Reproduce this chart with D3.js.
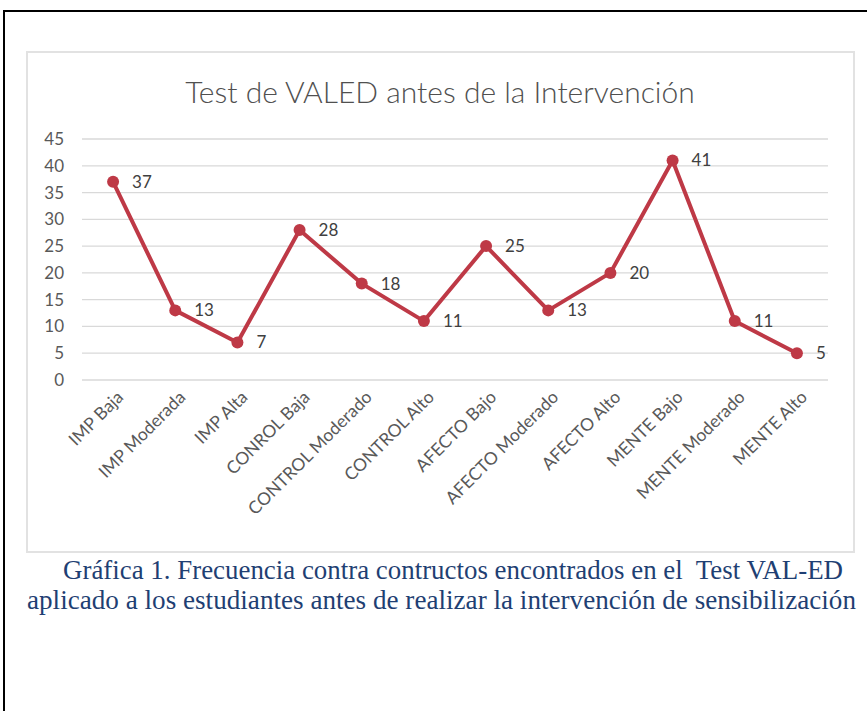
<!DOCTYPE html>
<meta charset="utf-8">
<style>
  body { margin: 0; background: #fff; }
</style>
<script src="https://d3js.org/d3.v7.min.js"></script>
<div id="chart"></div>
<script>

// data
var categories = ["IMP Baja", "IMP Moderada", "IMP Alta", "CONROL Baja", "CONTROL Moderado",
  "CONTROL Alto", "AFECTO Bajo", "AFECTO Moderado", "AFECTO Alto", "MENTE Bajo",
  "MENTE Moderado", "MENTE Alto"];
var values = [37, 13, 7, 28, 18, 11, 25, 13, 20, 41, 11, 5];
var yTicks = [0, 5, 10, 15, 20, 25, 30, 35, 40, 45];
var title = "Test de VALED antes de la Intervención";
var caption = [
  "Gráfica 1. Frecuencia contra contructos encontrados en el  Test VAL-ED",
  "aplicado a los estudiantes antes de realizar la intervención de sensibilización"
];

var W = 867, H = 711;
var lineColor = "#be3946";
var font = "Lato, 'Open Sans', sans-serif";

var svg = d3.select("#chart").append("svg")
  .attr("width", W)
  .attr("height", H);

// outer page frame (top and left edges)
svg.append("path")
  .attr("d", "M4,711 V11 H867")
  .attr("fill", "none")
  .attr("stroke", "#000")
  .attr("stroke-width", 2);

// chart box
svg.append("rect")
  .attr("x", 27).attr("y", 52)
  .attr("width", 827).attr("height", 500)
  .attr("fill", "#fff")
  .attr("stroke", "#e2e2e2")
  .attr("stroke-width", 2);

svg.append("text")
  .attr("x", 440)
  .attr("y", 103)
  .attr("text-anchor", "middle")
  .style("font-family", font)
  .style("font-weight", 300)
  .style("font-size", "30px")
  .style("fill", "#505050")
  .text(title);

// scales
var x = d3.scaleBand()
  .domain(categories)
  .range([82, 828]);

var y = d3.scaleLinear()
  .domain([0, 45])
  .range([380, 139]);

var cx = function(d) { return x(d) + x.bandwidth() / 2; };

// gridlines
svg.append("g")
  .selectAll("line")
  .data(yTicks)
  .enter()
  .append("line")
  .attr("x1", 82).attr("x2", 828)
  .attr("y1", function(d) { return y(d); })
  .attr("y2", function(d) { return y(d); })
  .attr("stroke", "#d9d9d9")
  .attr("stroke-width", 1.3);

// y axis labels
var yAxis = d3.axisLeft(y).tickValues(yTicks).tickSize(0).tickPadding(18);
svg.append("g")
  .attr("transform", "translate(82,0)")
  .call(yAxis)
  .call(function(g) { g.select(".domain").remove(); })
  .selectAll("text")
  .style("font-family", font)
  .style("font-size", "17px")
  .style("fill", "#595959");

// x axis labels, rotated
svg.append("g")
  .selectAll("text")
  .data(categories)
  .enter()
  .append("text")
  .attr("transform", function(d) { return "translate(" + (cx(d) + 7) + ",394) rotate(-45)"; })
  .attr("text-anchor", "end")
  .attr("dy", "0.35em")
  .style("font-family", font)
  .style("font-size", "17.5px")
  .style("fill", "#595959")
  .text(function(d) { return d; });

// the line
var pts = categories.map(function(c, i) { return { cat: c, value: values[i] }; });

svg.append("path")
  .datum(pts)
  .attr("d", d3.line()
    .x(function(d) { return cx(d.cat); })
    .y(function(d) { return y(d.value); }))
  .attr("fill", "none")
  .attr("stroke", lineColor)
  .attr("stroke-width", 4)
  .attr("stroke-linejoin", "round");

svg.append("g")
  .selectAll("circle")
  .data(pts)
  .enter()
  .append("circle")
  .attr("cx", function(d) { return cx(d.cat); })
  .attr("cy", function(d) { return y(d.value); })
  .attr("r", 6)
  .attr("fill", lineColor);

// data labels
svg.append("g")
  .selectAll("text")
  .data(pts)
  .enter()
  .append("text")
  .attr("x", function(d) { return cx(d.cat) + 19; })
  .attr("y", function(d) { return y(d.value); })
  .attr("dy", "0.35em")
  .style("font-family", font)
  .style("font-size", "17px")
  .style("fill", "#404040")
  .text(function(d) { return d.value; });

// caption below chart
var capLen = [780, 829];
svg.append("g")
  .selectAll("text")
  .data(caption)
  .enter()
  .append("text")
  .attr("x", function(d, i) { return i === 0 ? 63 : 27; })
  .attr("y", function(d, i) { return 579 + i * 30; })
  .attr("textLength", function(d, i) { return capLen[i]; })
  .attr("lengthAdjust", "spacingAndGlyphs")
  .style("white-space", "pre")
  .style("font-family", "'Liberation Serif', 'Times New Roman', serif")
  .style("font-size", "27px")
  .style("fill", "#1f3f73")
  .text(function(d) { return d; });

</script>
